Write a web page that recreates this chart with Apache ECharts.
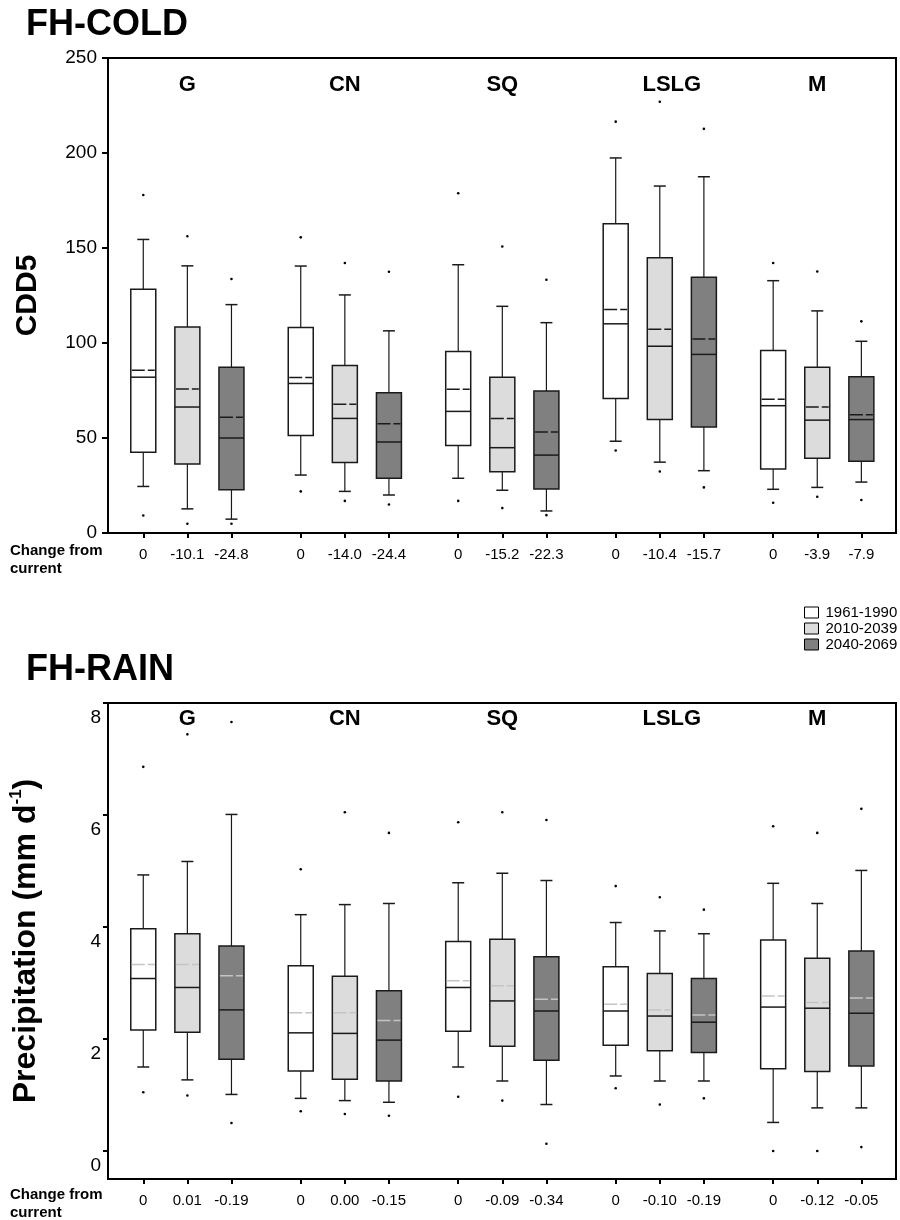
<!DOCTYPE html>
<html><head><meta charset="utf-8">
<script src="https://cdn.jsdelivr.net/npm/echarts@6/dist/echarts.min.js"></script>
<style>html,body{margin:0;padding:0;background:#fff}#c{width:900px;height:1220px}</style>
</head><body><div id="c"></div>
<script>
// ---------- data ----------
const groups = ['G', 'CN', 'SQ', 'LSLG', 'M'];
const periods = ['1961-1990', '2010-2039', '2040-2069'];

const coldChange = ['0','-10.1','-24.8','0','-14.0','-24.4','0','-15.2','-22.3','0','-10.4','-15.7','0','-3.9','-7.9'];
const rainChange = ['0','0.01','-0.19','0','0.00','-0.15','0','-0.09','-0.34','0','-0.10','-0.19','0','-0.12','-0.05'];

const coldTicks = [0, 50, 100, 150, 200, 250];
const rainTicks = [0, 2, 4, 6, 8];

// FH-COLD (CDD5), order: G(3 periods), CN, SQ, LSLG, M
const coldOutHigh = [177.9,156.2,133.7, 155.6,142.1,137.5, 178.8,150.8,133.3, 216.5,227.0,212.7, 142.1,137.6,111.4];
const coldWhiskerHigh = [154.5,140.6,120.2, 140.5,125.3,106.4, 141.2,119.3,110.7, 197.4,182.6,187.5, 132.8,116.9,100.9];
const coldQ3 = [128.3,108.4,87.3, 108.2,88.2,73.8, 95.5,82.0,74.7, 162.7,144.9,134.6, 96.1,87.3,82.2];
const coldMean = [85.6,75.8,60.9, 81.8,67.8,57.5, 75.7,60.3,53.2, 117.6,107.3,102.1, 70.4,66.3,62.2];
const coldMedian = [82.0,66.3,50.0, 78.7,60.3,47.9, 64.0,44.9,41.0, 110.1,98.3,94.0, 67.0,59.4,59.7];
const coldQ1 = [42.5,36.3,22.8, 51.3,37.1,28.8, 46.1,32.2,23.2, 70.8,59.7,55.8, 33.7,39.3,37.8];
const coldWhiskerLow = [24.5,12.7,7.3, 30.5,21.9,20.0, 28.8,22.5,11.6, 48.3,37.3,32.8, 23.0,24.0,26.8];
const coldOutLow = [9.2,4.9,4.9, 21.9,16.9,15.0, 16.9,13.1,9.4, 43.4,32.4,24.0, 15.9,19.1,17.4];

// FH-RAIN (precipitation, mm/d)
const rainOutHigh = [6.86,7.44,7.66, 5.03,6.05,5.68, 5.87,6.05,5.91, 4.73,4.53,4.31, 5.80,5.68,6.11];
const rainWhiskerHigh = [4.93,5.17,6.01, 4.22,4.40,4.42, 4.79,4.96,4.83, 4.08,3.93,3.88, 4.78,4.42,5.01];
const rainQ3 = [3.97,3.88,3.66, 3.31,3.12,2.86, 3.74,3.78,3.47, 3.29,3.17,3.08, 3.77,3.44,3.57];
const rainMean = [3.33,3.33,3.13, 2.47,2.47,2.33, 3.04,2.95,2.71, 2.62,2.52,2.43, 2.77,2.65,2.73];
const rainMedian = [3.08,2.92,2.52, 2.11,2.10,1.98, 2.92,2.68,2.50, 2.50,2.41,2.30, 2.57,2.55,2.46];
const rainQ1 = [2.16,2.12,1.64, 1.43,1.28,1.25, 2.14,1.87,1.62, 1.89,1.79,1.76, 1.47,1.42,1.52];
const rainWhiskerLow = [1.50,1.27,1.01, 0.94,0.90,0.87, 1.50,1.25,0.83, 1.34,1.25,1.25, 0.51,0.77,0.77];
const rainOutLow = [1.05,0.99,0.50, 0.71,0.66,0.63, 0.97,0.90,0.13, 1.12,0.83,0.94, 0.00,0.00,0.07];

// ---------- layout / style ----------
const FONT = '"Liberation Sans", Arial, Helvetica, sans-serif';
const fills = ['#ffffff', '#dcdcdc', '#808080'];
const GROUP_STEP = 50, SLOT_STEP = 14;
const boxX = [];
groups.forEach((g, gi) => periods.forEach((p, pi) => boxX.push(gi * GROUP_STEP + pi * SLOT_STEP)));
const labelShift = [0, 0, 0, 12, 0];

function buildData(stats, pi) {
  const out = [];
  for (let gi = 0; gi < groups.length; gi++) {
    const k = gi * 3 + pi;
    out.push([boxX[k]].concat(stats.map(a => a[k])));
  }
  return out;
}
const coldStats = [coldWhiskerLow, coldQ1, coldMedian, coldQ3, coldWhiskerHigh, coldMean, coldOutLow, coldOutHigh];
const rainStats = [rainWhiskerLow, rainQ1, rainMedian, rainQ3, rainWhiskerHigh, rainMean, rainOutLow, rainOutHigh];

function boxRender(meanColor) {
  return function (params, api) {
    const x = api.value(0);
    const P = i => api.coord([x, api.value(i)]);
    const cx = P(3)[0];
    const yWL = P(1)[1], yQ1 = P(2)[1], yMed = P(3)[1], yQ3 = P(4)[1], yWH = P(5)[1],
          yMean = P(6)[1], yOL = P(7)[1], yOH = P(8)[1];
    const hw = 12.5, cw = 6, ink = '#1a1a1a';
    const ln = (x1, y1, x2, y2, w, col, dash) => {
      const st = { stroke: col || ink, lineWidth: w };
      if (dash) st.lineDash = dash;
      return { type: 'line', shape: { x1, y1, x2, y2 }, style: st };
    };
    return {
      type: 'group',
      children: [
        ln(cx, yQ3, cx, yWH, 1.2), ln(cx - cw, yWH, cx + cw, yWH, 1.5),
        ln(cx, yQ1, cx, yWL, 1.2), ln(cx - cw, yWL, cx + cw, yWL, 1.5),
        { type: 'rect', shape: { x: cx - hw, y: yQ3, width: 2 * hw, height: yQ1 - yQ3 },
          style: { fill: api.visual('color'), stroke: ink, lineWidth: 1.5 } },
        ln(cx - hw, yMed, cx + hw, yMed, 1.5),
        ln(cx - hw + 1, yMean, cx + hw - 1, yMean, 1.5, meanColor, [13, 3]),
        { type: 'circle', shape: { cx: cx, cy: yOL, r: 1.3 }, style: { fill: '#000' } },
        { type: 'circle', shape: { cx: cx, cy: yOH, r: 1.3 }, style: { fill: '#000' } }
      ]
    };
  };
}

function groupLabelSeries(gi, offsetTop) {
  return {
    type: 'custom', xAxisIndex: gi, yAxisIndex: gi, silent: true,
    data: groups.map((g, i) => [i]),
    encode: { x: 0 },
    renderItem: function (params, api) {
      const i = api.value(0);
      const px = api.coord([boxX[i * 3 + 1], 0])[0] + labelShift[i];
      return {
        type: 'text', x: px, y: params.coordSys.y + offsetTop,
        style: { text: groups[i], font: 'bold 22px ' + FONT, fill: '#000',
                 align: 'center', verticalAlign: 'middle', textAlign: 'center', textVerticalAlign: 'middle' }
      };
    }
  };
}

function boxSeries(gi, stats, meanColor) {
  return periods.map((p, pi) => ({
    type: 'custom', name: p, xAxisIndex: gi, yAxisIndex: gi,
    itemStyle: { color: fills[pi], borderColor: '#000', borderWidth: 1 },
    encode: { x: 0, y: [1, 2, 3, 4, 5, 6, 7, 8] },
    data: buildData(stats, pi),
    renderItem: boxRender(meanColor)
  }));
}

function xAxis(gi, labels) {
  const map = {};
  boxX.forEach((v, i) => { map[String(v)] = labels[i]; });
  return {
    type: 'value', gridIndex: gi, min: -11.2, max: 239,
    axisLine: { onZero: false, lineStyle: { color: '#000', width: 2 } },
    axisTick: { customValues: boxX, length: 5, lineStyle: { color: '#000', width: 2 } },
    axisLabel: { customValues: boxX, formatter: v => map[String(v)] || '', fontSize: 15, fontFamily: FONT, color: '#000', margin: 14 },
    splitLine: { show: false }
  };
}

const chart = echarts.init(document.getElementById('c'), null, { renderer: 'canvas', devicePixelRatio: 1 });
chart.setOption({
  animation: false,
  backgroundColor: '#fff',
  grid: [
    { left: 108, top: 58, width: 788, height: 475, show: true, borderColor: '#000', borderWidth: 2, backgroundColor: 'transparent' },
    { left: 108, top: 703, width: 788, height: 476, show: true, borderColor: '#000', borderWidth: 2, backgroundColor: 'transparent' }
  ],
  xAxis: [xAxis(0, coldChange), xAxis(1, rainChange)],
  yAxis: [
    {
      type: 'value', gridIndex: 0, min: 0, max: 250, interval: 50,
      name: 'CDD5', nameLocation: 'middle', nameRotate: 90, nameGap: 65,
      nameTextStyle: { fontSize: 30, fontWeight: 'bold', fontFamily: FONT, color: '#000' },
      axisLine: { show: true, onZero: false, lineStyle: { color: '#000', width: 2 } },
      axisTick: { show: true, customValues: coldTicks, length: 6, lineStyle: { color: '#000', width: 2 } },
      axisLabel: { customValues: coldTicks, fontSize: 19, fontFamily: FONT, color: '#000', margin: 11 },
      splitLine: { show: false }
    },
    {
      type: 'value', gridIndex: 1, min: -0.5, max: 8,
      name: '{a|Precipitation (mm d}{b|-1}{a|)}', nameLocation: 'middle', nameRotate: 90, nameGap: 64,
      nameTextStyle: {
        color: '#000',
        rich: {
          a: { fontSize: 32, fontWeight: 'bold', fontFamily: FONT, color: '#000', lineHeight: 36 },
          b: { fontSize: 17, fontWeight: 'bold', fontFamily: FONT, color: '#000', lineHeight: 36, verticalAlign: 'top' }
        }
      },
      axisLine: { show: true, onZero: false, lineStyle: { color: '#000', width: 2 } },
      axisTick: { show: true, customValues: rainTicks, length: 5, lineStyle: { color: '#000', width: 2 } },
      axisLabel: { customValues: rainTicks, fontSize: 19, fontFamily: FONT, color: '#000', margin: 7, verticalAlign: 'top', lineHeight: 29 },
      splitLine: { show: false }
    }
  ],
  legend: {
    data: periods, orient: 'vertical', left: 799, top: 600,
    itemWidth: 14, itemHeight: 11, itemGap: 1, icon: 'rect', selectedMode: false,
    itemStyle: { borderColor: '#000', borderWidth: 1 },
    textStyle: { fontSize: 15, fontFamily: FONT, color: '#000', padding: [0, 0, 0, 2] }
  },
  graphic: [
    { type: 'text', left: 26, top: 7, style: { text: 'FH-COLD', font: 'bold 36px ' + FONT, fill: '#000' } },
    { type: 'text', left: 26, top: 652, style: { text: 'FH-RAIN', font: 'bold 36px ' + FONT, fill: '#000' } },
    { type: 'text', left: 10, top: 542, style: { text: 'Change from\ncurrent', font: 'bold 15px ' + FONT, lineHeight: 18, fill: '#000' } },
    { type: 'text', left: 10, top: 1186, style: { text: 'Change from\ncurrent', font: 'bold 15px ' + FONT, lineHeight: 18, fill: '#000' } }
  ],
  series: [].concat(
    boxSeries(0, coldStats, '#1a1a1a'),
    boxSeries(1, rainStats, '#c4c4c4'),
    [groupLabelSeries(0, 27), groupLabelSeries(1, 16)]
  )
});
</script></body></html>
